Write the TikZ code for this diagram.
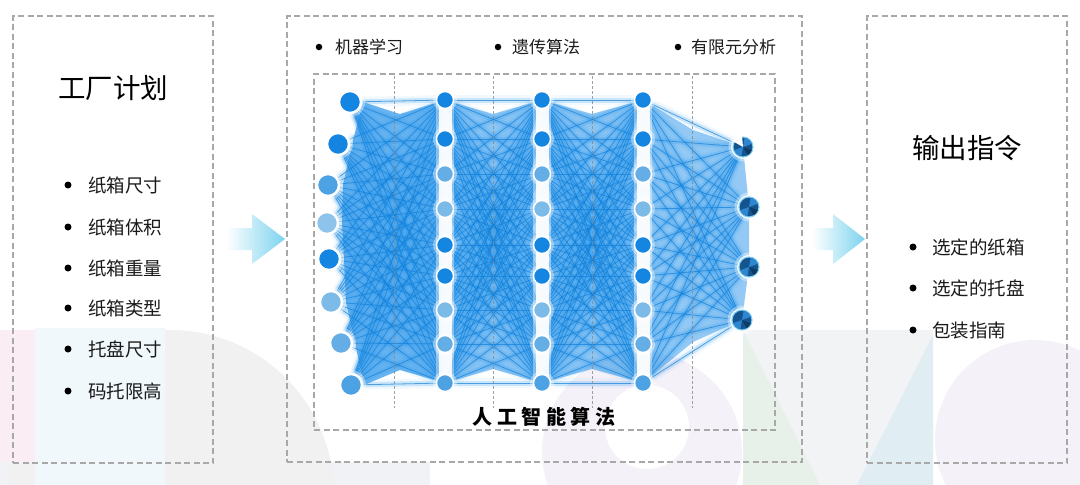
\documentclass[tikz,border=0pt]{standalone}
\usepackage{fontspec}
\newfontfamily\cjk{Noto Sans CJK SC}
\pgfdeclarelayer{bg}
\pgfdeclarelayer{edges}
\pgfsetlayers{bg,edges,main}
\definecolor{bordergray}{HTML}{A8A8A8}
\definecolor{guidegray}{HTML}{8A8A8A}
\definecolor{dk}{HTML}{1485E0}
\definecolor{md}{HTML}{4DA2E4}
\definecolor{ml}{HTML}{65AEE5}
\definecolor{lt}{HTML}{7CBBE8}
\definecolor{lx}{HTML}{8EC4EC}
\definecolor{glowblue}{HTML}{2A98EC}
\definecolor{hullblue}{HTML}{3A9DEB}
\definecolor{lineblue}{HTML}{1480D8}
\definecolor{outdark}{HTML}{14558F}
\definecolor{outmid}{HTML}{2F86D0}
\definecolor{outrim}{HTML}{7FD0F2}
\definecolor{arrowc}{HTML}{7DD3EF}
\definecolor{textc}{HTML}{1A1A1A}
\definecolor{pinkbg}{HTML}{FBEDF4}
\definecolor{cyanbg}{HTML}{F0F8FB}
\definecolor{graybg}{HTML}{F1F1F2}
\definecolor{stripbg}{HTML}{F0F2F6}
\definecolor{lavbg}{HTML}{F5F1F9}
\definecolor{greenbg}{HTML}{E8F0EA}
\definecolor{bluebg}{HTML}{E0EEF3}
\definecolor{gray2bg}{HTML}{F1F3F5}
\tikzset{
  panelbox/.style={draw=bordergray, line width=1.1pt, dash pattern=on 6pt off 3.5pt},
  guideline/.style={draw=guidegray, line width=0.6pt, dash pattern=on 3pt off 2pt, draw opacity=0.8},
  neuron/.style={circle, draw=white, line width=1.4pt, inner sep=0pt, minimum size=#1},
  outneuron/.style={circle, draw=outrim, fill=outdark, line width=1.1pt, inner sep=0pt, minimum size=20pt},
  hullfill/.style={fill=hullblue, fill opacity=#1},
  haloline/.style={line width=10pt, draw=glowblue, draw opacity=0.06},
  glowline/.style={line width=5pt, draw=glowblue, draw opacity=0.2},
  edgeline/.style={line width=0.8pt, draw=lineblue, draw opacity=0.7},
  whiteband/.style={draw=white, line cap=round, line width=#1},
  bulletdot/.style={circle, fill=black, inner sep=0pt, minimum size=7pt},
  itemtext/.style={anchor=west, inner sep=0pt, text=textc, font=\cjk\fontsize{18.5}{20}\selectfont},
  topitemtext/.style={anchor=west, inner sep=0pt, text=textc, font=\cjk\fontsize{17}{19}\selectfont},
  titletext/.style={inner sep=0pt, text=black, font=\cjk\fontsize{27.5}{30}\selectfont},
  algotext/.style={inner sep=0pt, text=black, font=\cjk\bfseries\fontsize{20}{22}\selectfont},
}
\begin{document}
\begin{tikzpicture}[x=1pt,y=-1pt]
\useasboundingbox (0,0) rectangle (1080,485);

% ---------- faint background ----------
\begin{pgfonlayer}{bg}
  \fill[stripbg] (0,462) rectangle (430,485);
  \fill[graybg] (170,494) circle (164pt);
  \fill[cyanbg] (35,328) rectangle (165,485);
  \fill[pinkbg] (0,330) rectangle (35,462);
  \fill[lavbg] (642,452) circle (100pt);
  \fill[white] (647,427) circle (42pt);
  \fill[gray2bg] (743,330) rectangle (933,485);
  \fill[greenbg] (743,330) -- (743,485) -- (820,485) -- cycle;
  \fill[bluebg] (933,335) -- (933,485) -- (857,485) -- cycle;
  \fill[lavbg] (1035,440) circle (100pt);
\end{pgfonlayer}

% ---------- panels ----------
\node[panelbox, minimum width=200pt, minimum height=447pt, inner sep=0pt] (left) at (113,239.5) {};
\node[panelbox, minimum width=515pt, minimum height=446pt, inner sep=0pt] (mid) at (544.5,239) {};
\node[panelbox, minimum width=461pt, minimum height=356pt, inner sep=0pt] (inner) at (544.5,252) {};
\node[panelbox, minimum width=200pt, minimum height=447pt, inner sep=0pt] (right) at (967,239.5) {};

% ---------- left panel ----------
\node[titletext] (ltitle) at (113,88) {工厂计划};
\foreach \y/\t [count=\k] in {185/纸箱尺寸,227/纸箱体积,268/纸箱重量,308/纸箱类型,349/托盘尺寸,391/码托限高}{
  \node[bulletdot] (ld\k) at (68,\y) {};
  \node[itemtext] (lt\k) at (88,\y) {\t};
}

% ---------- right panel ----------
\node[titletext] (rtitle) at (967,148) {输出指令};
\foreach \y/\t [count=\k] in {247/选定的纸箱,288/选定的托盘,330/包装指南}{
  \node[bulletdot] (rd\k) at (913,\y) {};
  \node[itemtext] (rt\k) at (932,\y) {\t};
}

% ---------- middle top list ----------
\node[bulletdot, minimum size=6.5pt] (md1) at (319,47) {};
\node[topitemtext] (mt1) at (335,47) {机器学习};
\node[bulletdot, minimum size=6.5pt] (md2) at (498,47) {};
\node[topitemtext] (mt2) at (512,47) {遗传算法};
\node[bulletdot, minimum size=6.5pt] (md3) at (678,47) {};
\node[topitemtext] (mt3) at (691,47) {有限元分析};

% ---------- network nodes ----------
\foreach \x/\y/\c [count=\k] in {350/102/dk,338/144/dk,328/185/md,327/223/lx,329/259/dk,331/302/lt,341/343/ml,351/385/md}{
  \node[neuron=21pt, fill=\c] (i\k) at (\x,\y) {};
}
\foreach \y/\c [count=\k] in {100/dk,139/dk,174/ml,209/lt,245/dk,276/dk,310/lt,344/ml,383/md}{
  \node[neuron=17pt, fill=\c] (a\k) at (445,\y) {};
  \node[neuron=17pt, fill=\c] (b\k) at (542,\y) {};
  \node[neuron=17pt, fill=\c] (c\k) at (643,\y) {};
}
\node[outneuron] (o1) at (743,147) {};
\node[outneuron] (o2) at (749,207) {};
\node[outneuron] (o3) at (749,267) {};
\node[outneuron] (o4) at (742,320) {};
\foreach \n in {o1,o2,o3,o4}{
  \fill[outmid] (\n.center) -- ++(20:9.4pt) arc[start angle=20, end angle=80, radius=9.4pt] -- cycle;
  \fill[outmid] (\n.center) -- ++(200:9.4pt) arc[start angle=200, end angle=260, radius=9.4pt] -- cycle;
  \fill[outdark!70!black] (\n.center) -- ++(-60:9.4pt) arc[start angle=-60, end angle=-20, radius=9.4pt] -- cycle;
}
\fill[white] (o1.center) -- ++(95:11pt) arc[start angle=95, end angle=150, radius=11pt] -- cycle;

% ---------- connections ----------
\begin{pgfonlayer}{edges}
  % dense core between layers
  \fill[hullfill=0.75] ([xshift=13pt]i1.center) -- (400,114) -- (a1.center) -- (a9.center) -- (400,370) -- ([xshift=13pt]i8.center) -- ([xshift=14pt]i7.center) -- ([xshift=15pt]i6.center) -- ([xshift=15pt]i5.center) -- ([xshift=15pt]i4.center) -- ([xshift=15pt]i3.center) -- ([xshift=14pt]i2.center) -- cycle;
  \fill[hullfill=0.58] (a1.center) -- (493,114) -- (b1.center) -- (b9.center) -- (493,369) -- (a9.center) -- cycle;
  \fill[hullfill=0.58] (b1.center) -- (592,114) -- (c1.center) -- (c9.center) -- (592,369) -- (b9.center) -- cycle;
  \fill[hullfill=0.55] (c1.center) -- (693,130) -- (o1.center) -- (o2.center) -- (o3.center) -- (o4.center) -- (693,342) -- (c9.center) -- cycle;
  \foreach \p in {1,...,8}{\foreach \q in {1,...,9}{\draw[haloline] (i\p) -- (a\q);}}
  \foreach \p in {1,...,9}{\foreach \q in {1,...,9}{\draw[haloline] (a\p) -- (b\q); \draw[haloline] (b\p) -- (c\q);}}
  \foreach \p in {1,...,9}{\foreach \q in {1,...,4}{\draw[haloline] (c\p) -- (o\q);}}
  \foreach \p in {1,...,8}{\foreach \q in {1,...,9}{\draw[glowline] (i\p) -- (a\q);}}
  \foreach \p in {1,...,9}{\foreach \q in {1,...,9}{\draw[glowline] (a\p) -- (b\q); \draw[glowline] (b\p) -- (c\q);}}
  \foreach \p in {1,...,9}{\foreach \q in {1,...,4}{\draw[glowline] (c\p) -- (o\q);}}
  \foreach \p in {1,...,8}{\foreach \q in {1,...,9}{\draw[edgeline] (i\p) -- (a\q);}}
  \foreach \p in {1,...,9}{\foreach \q in {1,...,9}{\draw[edgeline] (a\p) -- (b\q); \draw[edgeline] (b\p) -- (c\q);}}
  \foreach \p in {1,...,9}{\foreach \q in {1,...,4}{\draw[edgeline] (c\p) -- (o\q);}}
  % white halos round the node columns
  \foreach \col in {a,b,c}{
    \draw[whiteband=18pt, draw opacity=0.4] (\col1.center) -- (\col9.center);
    \draw[whiteband=13pt, draw opacity=0.9] (\col1.center) -- (\col9.center);
    \foreach \k in {1,...,9}{
      \fill[white, fill opacity=0.4] (\col\k.center) circle (12pt);
    }
  }
  \foreach \k in {1,...,8}{
    \fill[white, fill opacity=0.4] (i\k.center) circle (15pt);
    \fill[white, fill opacity=0.9] (i\k.center) circle (12.5pt);
  }
  \foreach \k in {1,...,4}{
    \fill[white, fill opacity=0.4] (o\k.center) circle (14.5pt);
    \fill[white, fill opacity=0.9] (o\k.center) circle (12pt);
  }
  \foreach \x [count=\k] in {394,493,592,692}{
    \coordinate (gt\k) at (\x,76);
    \coordinate (gb\k) at (\x,408);
    \draw[guideline] (gt\k) -- (gb\k);
  }
\end{pgfonlayer}

% ---------- algorithm label ----------
\node[algotext] (algo) at (544,417) {人\hspace{4.5pt}工\hspace{4.5pt}智\hspace{4.5pt}能\hspace{4.5pt}算\hspace{4.5pt}法};

% ---------- arrows between panels ----------
\coordinate (la1) at (226,228);
\shade[left color=white, right color=arrowc] (la1) -- (252,228) -- (252,214) -- (285,239) -- (252,264) -- (252,250) -- (226,250) -- cycle;
\coordinate (ra1) at (812,228);
\shade[left color=white, right color=arrowc] (ra1) -- (833,228) -- (833,214) -- (865,239) -- (833,264) -- (833,250) -- (812,250) -- cycle;
\end{tikzpicture}
\end{document}
